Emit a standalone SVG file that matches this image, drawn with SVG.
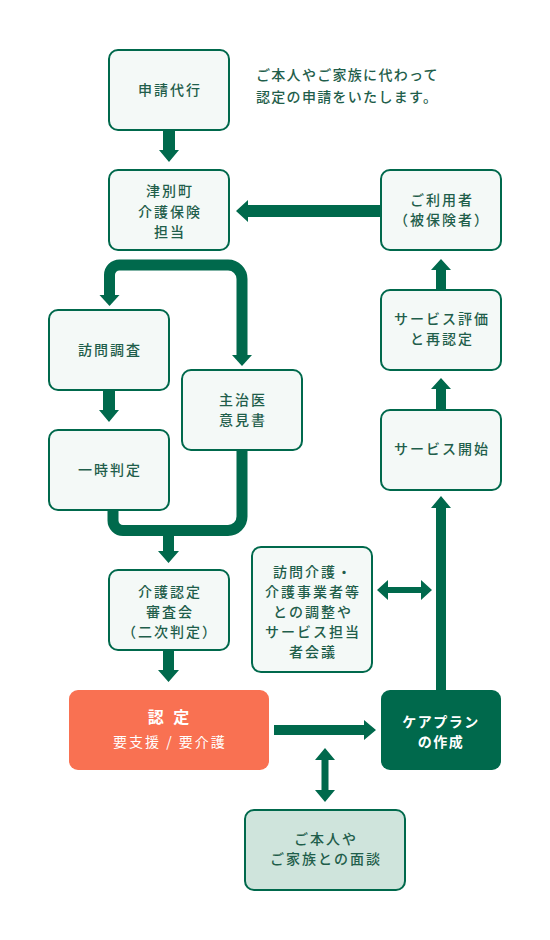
<svg xmlns="http://www.w3.org/2000/svg" width="550" height="940" viewBox="0 0 550 940">
<defs>
<style>
.box{fill:#f4f9f7;stroke:#00694c;stroke-width:2}
.t{font-family:"Noto Sans CJK JP","Noto Sans",sans-serif;font-size:14px;font-weight:500;fill:#1f5e4b;letter-spacing:2px;text-anchor:middle}
.w{fill:#ffffff}
.ar{fill:#00694c}
.ln{fill:none;stroke:#00694c;stroke-width:11}
</style>
</defs>
<rect width="550" height="940" fill="#ffffff"/>

<g id="connectors">
<polygon class="ar" points="163,130 175,130 175,150 179,150 169,162 159,150 163,150"/>
<polygon class="ar" points="381,205 248,205 248,200 236,211 248,222 248,217 381,217"/>
<path class="ln" d="M109.5,296 V275 A10,10 0 0 1 119.5,265 H228 A14,14 0 0 1 242,279 V356"/>
<polygon class="ar" points="99.5,295 119.5,295 109.5,306"/>
<polygon class="ar" points="232,355 252,355 242,366"/>
<polygon class="ar" points="103,390 115,390 115,410 119,410 109,422 99,410 103,410"/>
<path class="ln" d="M113,510 V520.5 A10,10 0 0 0 123,530.5 H228 A14,14 0 0 0 242,516.5 V450"/>
<polygon class="ar" points="163,532 174,532 174,551 179,551 168.5,563 158,551 163,551"/>
<polygon class="ar" points="163,650 174,650 174,670 179,670 168.5,682 158,670 163,670"/>
<polygon class="ar" points="274,725 364,725 364,720 376,730 364,740 364,735 274,735"/>
<polygon class="ar" points="436,690 436,508 431,508 441,496 451,508 446,508 446,690"/>
<polygon class="ar" points="436,410 436,389 431,389 441,378 451,389 446,389 446,410"/>
<polygon class="ar" points="436,290 436,270 431,270 441,259 451,270 446,270 446,290"/>
<polygon class="ar" points="377,590 388,580 388,587 421,587 421,580 432,590 421,600 421,593 388,593 388,600"/>
<polygon class="ar" points="325,748 335,760 328.5,760 328.5,790 335,790 325,802 315,790 321.5,790 321.5,760 315,760"/>
</g>

<g id="node-shinsei">
<rect class="box" x="109" y="50" width="120" height="80" rx="9"/>
<text class="t" x="170" y="95">申請代行</text>
</g>

<g id="note">
<text class="t" x="256" y="80" style="text-anchor:start;letter-spacing:1.3px">ご本人やご家族に代わって</text>
<text class="t" x="256" y="102" style="text-anchor:start;letter-spacing:1.3px">認定の申請をいたします。</text>
</g>

<g id="node-tsubetsu">
<rect class="box" x="109" y="170" width="120" height="80" rx="9"/>
<text class="t" x="170" y="196">津別町</text>
<text class="t" x="170" y="217">介護保険</text>
<text class="t" x="170" y="237">担当</text>
</g>

<g id="node-riyousha">
<rect class="box" x="381" y="170" width="120" height="80" rx="9"/>
<text class="t" x="442" y="205">ご利用者</text>
<text class="t" x="442" y="225">（被保険者）</text>
</g>

<g id="node-houmon">
<rect class="box" x="49" y="310" width="120" height="80" rx="9"/>
<text class="t" x="110" y="355">訪問調査</text>
</g>

<g id="node-shujii">
<rect class="box" x="182" y="370" width="120" height="80" rx="9"/>
<text class="t" x="243" y="405">主治医</text>
<text class="t" x="243" y="425">意見書</text>
</g>

<g id="node-ichiji">
<rect class="box" x="49" y="430" width="120" height="80" rx="9"/>
<text class="t" x="110" y="475">一時判定</text>
</g>

<g id="node-hyouka">
<rect class="box" x="381" y="290" width="120" height="80" rx="9"/>
<text class="t" x="442" y="324">サービス評価</text>
<text class="t" x="442" y="344">と再認定</text>
</g>

<g id="node-kaishi">
<rect class="box" x="381" y="410" width="120" height="80" rx="9"/>
<text class="t" x="442" y="454">サービス開始</text>
</g>

<g id="node-shinsakai">
<rect class="box" x="109" y="570" width="120" height="80" rx="9"/>
<text class="t" x="170" y="597">介護認定</text>
<text class="t" x="170" y="617">審査会</text>
<text class="t" x="170" y="637">（二次判定）</text>
</g>

<g id="node-chousei">
<rect class="box" x="252" y="547" width="120" height="125" rx="9"/>
<text class="t" x="313" y="577">訪問介護・</text>
<text class="t" x="313" y="597">介護事業者等</text>
<text class="t" x="313" y="617">との調整や</text>
<text class="t" x="313" y="637">サービス担当</text>
<text class="t" x="313" y="657">者会議</text>
</g>

<g id="node-nintei">
<rect x="69" y="690" width="200" height="80" rx="9" fill="#f97152"/>
<text class="t w" x="170" y="723" style="font-size:16px;font-weight:700;letter-spacing:3px">認 定</text>
<text class="t w" x="170" y="747" style="font-weight:400">要支援 / 要介護</text>
</g>

<g id="node-careplan">
<rect x="381" y="690" width="120" height="80" rx="9" fill="#00694c"/>
<text class="t w" x="441" y="727" style="font-weight:700;letter-spacing:1.5px">ケアプラン</text>
<text class="t w" x="441" y="747" style="font-weight:700;letter-spacing:1.5px">の作成</text>
</g>

<g id="node-mendan">
<rect x="245" y="810" width="160" height="80" rx="9" fill="#cfe4dc" stroke="#00694c" stroke-width="2"/>
<text class="t" x="326" y="844">ご本人や</text>
<text class="t" x="326" y="864">ご家族との面談</text>
</g>
</svg>
